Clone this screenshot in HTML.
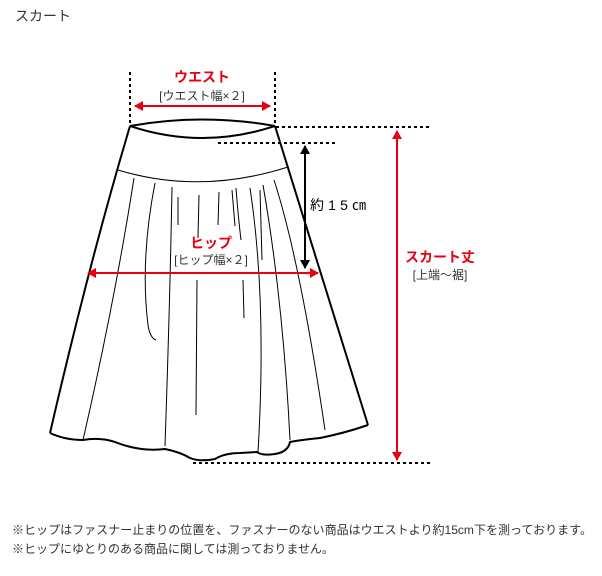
<!DOCTYPE html>
<html><head><meta charset="utf-8"><style>
html,body{margin:0;padding:0;background:#fff;}
svg{display:block;font-family:"Liberation Sans","Noto Sans CJK JP",sans-serif;}
</style></head><body>
<svg width="602" height="576" viewBox="0 0 602 576">
<defs>
<marker id="r" markerWidth="10" markerHeight="10" refX="8" refY="5" orient="auto" markerUnits="userSpaceOnUse"><path d="M0,0 L9,5 L0,10 Z" fill="#e60012"/></marker>
<marker id="b" markerWidth="10" markerHeight="10" refX="8" refY="5" orient="auto" markerUnits="userSpaceOnUse"><path d="M0,0 L9,5 L0,10 Z" fill="#000"/></marker>
</defs>
<text x="15" y="21" font-size="14" fill="#333">スカート</text>

<g fill="none" stroke="#000" stroke-width="2">
<path d="M130,126 Q202,113 275,126"/>
<path d="M130,126 Q202,150 275,126"/>
<path d="M130,126 Q90,260 50,433"/>
<path d="M275,126 L368,425"/>
<path d="M50,433 Q65,440 83,440 Q100,437 115,442 Q140,452 165,449 Q180,452 190,458 Q200,462 215,459 Q225,453 240,453 L257,452 Q262,456 275,454 Q288,452 290,442 Q300,440 320,438 Q345,433 368,425"/>
</g>
<g fill="none" stroke="#000" stroke-width="1">
<path d="M118,170 Q200,195 288,167"/>
<path d="M134,178 Q115,300 83,440"/>
<path d="M155,183 Q140,260 148,325 Q150,338 156,340"/>
<path d="M172,187 Q170,300 165,446"/>
<path d="M199,195 L198,238"/>
<path d="M178,197 L178,225"/>
<path d="M219,192 L218,225"/>
<path d="M232,190 L235,226"/>
<path d="M236,188 Q238,215 241,240"/>
<path d="M250,188 Q267,300 258,452"/>
<path d="M263,185 Q283,300 290,440"/>
<path d="M274,180 Q300,260 325,430"/>
<path d="M260,190 L262,260"/>
<path d="M243,280 L244,318"/>
<path d="M197,280 L196,415"/>
</g>

<g stroke="#000" stroke-width="2" stroke-dasharray="3,3" fill="none">
<path d="M130,72 V125"/>
<path d="M275,72 V125"/>
<path d="M276,127 H430"/>
<path d="M218,143 H336"/>
<path d="M193,463 H430"/>
</g>

<g stroke-width="2" fill="none">
<path d="M200,106 L135,106" stroke="#e60012" marker-end="url(#r)"/>
<path d="M200,106 L270,106" stroke="#e60012" marker-end="url(#r)"/>
<path d="M200,273 L88,273" stroke="#e60012" marker-end="url(#r)"/>
<path d="M200,273 L318,273" stroke="#e60012" marker-end="url(#r)"/>
<path d="M397,290 L397,131" stroke="#e60012" marker-end="url(#r)"/>
<path d="M397,290 L397,460" stroke="#e60012" marker-end="url(#r)"/>
<path d="M305,200 L305,146" stroke="#000" marker-end="url(#b)"/>
<path d="M305,200 L305,268" stroke="#000" marker-end="url(#b)"/>
</g>

<g text-anchor="middle">
<text x="202" y="82" font-size="14" font-weight="bold" fill="#e60012">ウエスト</text>
<text x="202" y="100" font-size="12" fill="#333">[ウエスト幅×２]</text>
<text x="211" y="248" font-size="14" font-weight="bold" fill="#e60012">ヒップ</text>
<text x="211" y="264" font-size="12" fill="#333">[ヒップ幅×２]</text>
<text x="440" y="262" font-size="14" font-weight="bold" fill="#e60012">スカート丈</text>
<text x="440" y="279" font-size="12" fill="#333">[上端～裾]</text>
</g>
<text x="310" y="210" font-size="14" fill="#000" textLength="56" lengthAdjust="spacing">約15㎝</text>

<text x="12" y="534" font-size="12" fill="#333" textLength="580" lengthAdjust="spacingAndGlyphs">※ヒップはファスナー止まりの位置を、ファスナーのない商品はウエストより約15cm下を測っております。</text>
<text x="12" y="553" font-size="12" fill="#333" textLength="322" lengthAdjust="spacingAndGlyphs">※ヒップにゆとりのある商品に関しては測っておりません。</text>
</svg>
</body></html>
